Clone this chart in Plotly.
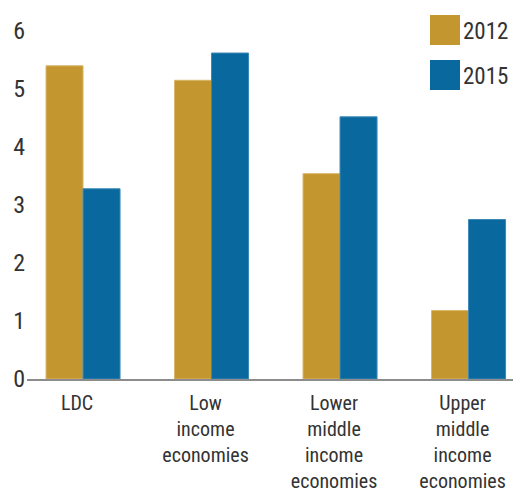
import plotly.graph_objects as go

categories = ["LDC", "Low<br>income<br>economies", "Lower<br>middle<br>income<br>economies",
              "Upper<br>middle<br>income<br>economies"]
series_names = ["2012", "2015"]
values_2012 = [5.40, 5.15, 3.54, 1.18]
values_2015 = [3.28, 5.62, 4.52, 2.75]
y_ticks = [0, 1, 2, 3, 4, 5, 6]

colors = ["#C4962F", "#09699E"]
edge = ["#D8B66A", "#3C88B6"]
FONT = "Roboto Condensed, Liberation Sans, sans-serif"

W, H = 513, 489
ML, MR, MT, MB = 27, 0, 31, 110
PW, PH = W - ML - MR, H - MT - MB

fig = go.Figure()
for name, vals, c, e in zip(series_names, [values_2012, values_2015], colors, edge):
    fig.add_trace(go.Bar(x=categories, y=vals, name=name, marker=dict(color=c, line=dict(color=e, width=1)),
                         showlegend=False))

def px_x(p):
    return (p - ML) / PW

def px_y(p):
    return (H - MB - p) / PH

shapes = []
annotations = []
for i, (name, c) in enumerate(zip(series_names, colors)):
    top = 15 + i * 45
    shapes.append(dict(type="rect", xref="paper", yref="paper", x0=px_x(430), x1=px_x(460),
                       y0=px_y(top + 30), y1=px_y(top), fillcolor=c, line=dict(width=0)))
    annotations.append(dict(xref="paper", yref="paper", x=px_x(461), y=px_y(top + 16), text=name,
                            showarrow=False, xanchor="left", yanchor="middle",
                            font=dict(family=FONT, size=23, color="#333333")))

fig.update_layout(
    width=W, height=H,
    margin=dict(l=ML, r=MR, t=MT, b=MB, autoexpand=False),
    paper_bgcolor="white", plot_bgcolor="white",
    barmode="group", bargap=0.424, bargroupgap=0,
    shapes=shapes, annotations=annotations,
    font=dict(family=FONT, size=23, color="#333333"),
)
fig.update_xaxes(range=[-0.436, 3.346], showgrid=False, showline=True, linecolor="#8C8C8C", linewidth=1.5,
                 ticks="", tickfont=dict(family=FONT, size=20, color="#333333"), ticklabelshift=-6,
                 ticklabelstandoff=5, automargin=False)
fig.update_yaxes(range=[0, 6], tickvals=y_ticks, showgrid=False, zeroline=False, showline=False,
                 ticks="", tickfont=dict(family=FONT, size=24, color="#333333"), ticklabelstandoff=1,
                 automargin=False)

fig.write_html("out.html", config={"displayModeBar": False, "staticPlot": True},
               post_script="document.body.style.margin='0';document.body.style.overflow='hidden';")
